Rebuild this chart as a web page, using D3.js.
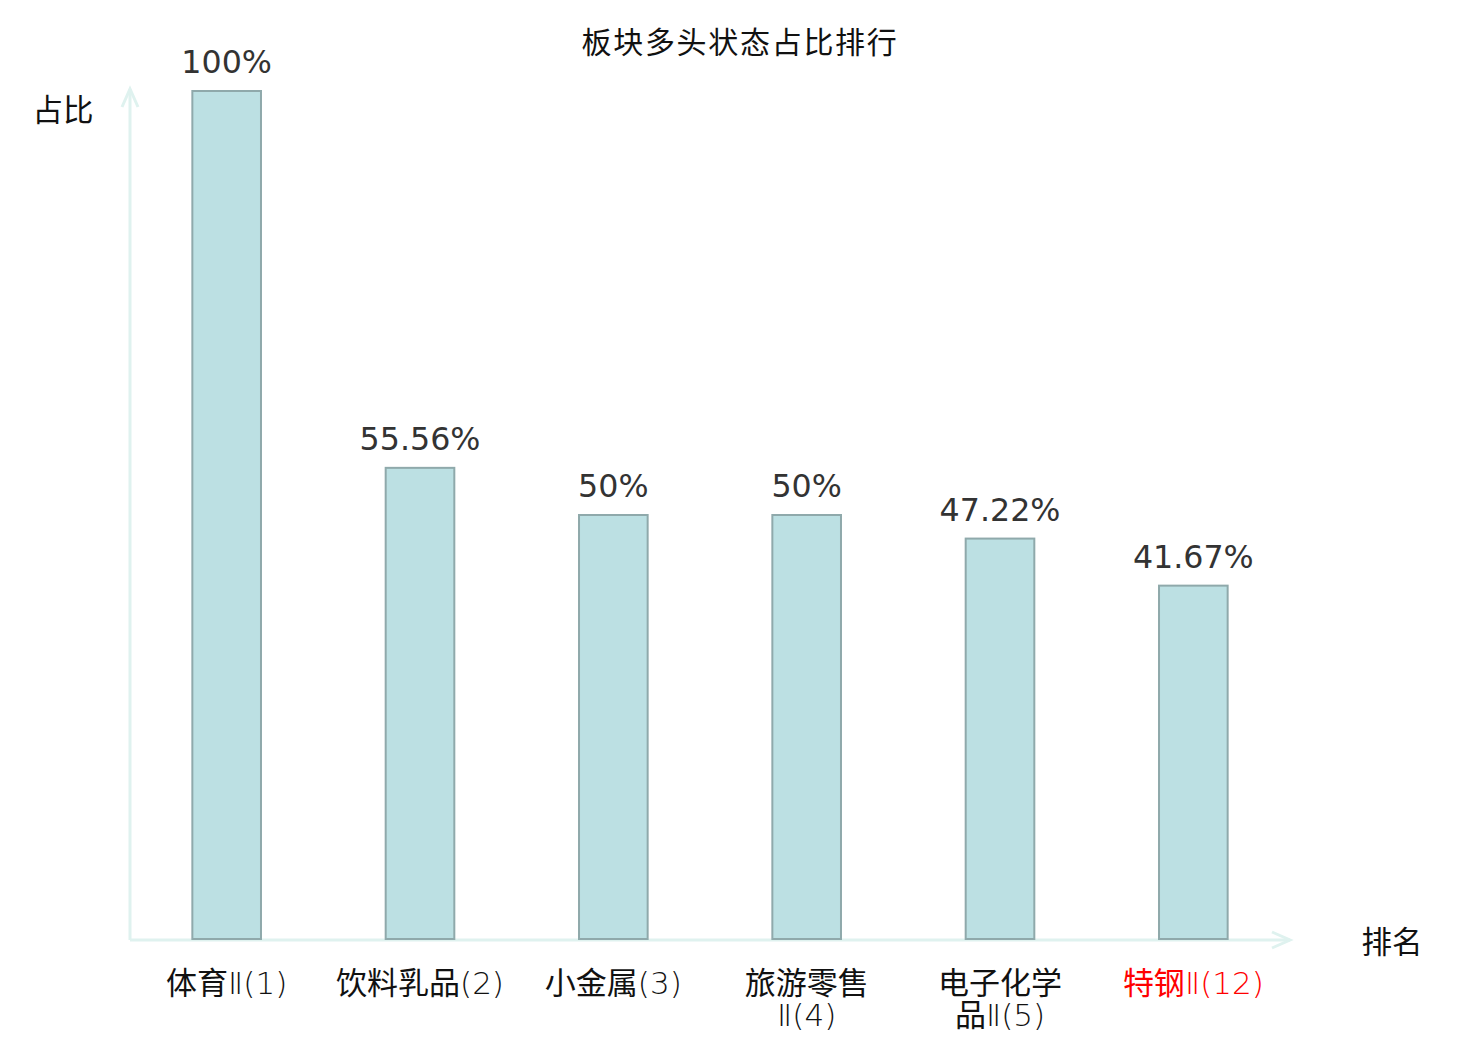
<!DOCTYPE html>
<html>
<head>
<meta charset="utf-8">
<script src="https://cdn.jsdelivr.net/npm/d3@7/dist/d3.min.js"></script>
<style>
  body { margin: 0; background: #fff; }
  text { font-family: "Noto Sans CJK SC", "Noto Sans", sans-serif; }
  tspan.latin { font-family: "DejaVu Sans", "Noto Sans CJK SC", sans-serif; font-weight: 200; }
  tspan.han { font-family: "Noto Sans CJK SC", sans-serif; font-weight: 400; }
</style>
</head>
<body>
<svg id="chart"></svg>
<script>
const WIDTH = 1480;
const HEIGHT = 1040;

// data
const categories = ["体育Ⅱ(1)", "饮料乳品(2)", "小金属(3)", "旅游零售Ⅱ(4)", "电子化学品Ⅱ(5)", "特钢Ⅱ(12)"];
const values = [100, 55.56, 50, 50, 47.22, 41.67];
const valueLabels = ["100%", "55.56%", "50%", "50%", "47.22%", "41.67%"];
const highlight = ["特钢Ⅱ(12)"];

const plotLeft = 130, plotRight = 1290, plotTop = 91, plotBottom = 939;

const svg = d3.select("#chart")
    .attr("width", WIDTH)
    .attr("height", HEIGHT);

const x = d3.scaleBand()
    .domain(categories)
    .range([plotLeft, plotRight]);

const y = d3.scaleLinear()
    .domain([0, 100])
    .range([plotBottom, plotTop]);

const barW = x.bandwidth() * 0.355;
const axisColor = "#dff2ef";

// title
svg.append("text")
    .attr("x", 740)
    .attr("y", 53)
    .attr("text-anchor", "middle")
    .style("font-size", "30px")
    .style("letter-spacing", "1.7px")
    .attr("fill", "#111")
    .text("板块多头状态占比排行");

// axes lines with arrows
svg.append("line")
    .attr("x1", plotLeft).attr("x2", plotRight)
    .attr("y1", plotBottom + 1).attr("y2", plotBottom + 1)
    .attr("stroke", axisColor).attr("stroke-width", 3);
svg.append("path")
    .attr("d", `M${plotRight - 18},${plotBottom - 7} L${plotRight},${plotBottom + 1} L${plotRight - 18},${plotBottom + 9}`)
    .attr("fill", "none").attr("stroke", axisColor).attr("stroke-width", 3);

svg.append("line")
    .attr("x1", plotLeft).attr("x2", plotLeft)
    .attr("y1", plotBottom + 1).attr("y2", 89)
    .attr("stroke", axisColor).attr("stroke-width", 3);
svg.append("path")
    .attr("d", `M${plotLeft - 8},${107} L${plotLeft},${89} L${plotLeft + 8},${107}`)
    .attr("fill", "none").attr("stroke", axisColor).attr("stroke-width", 3);

// axis names
svg.append("text")
    .attr("x", 63).attr("y", 121)
    .attr("text-anchor", "middle")
    .style("font-size", "30.5px")
    .attr("fill", "#111")
    .text("占比");
svg.append("text")
    .attr("x", 1392).attr("y", 953)
    .attr("text-anchor", "middle")
    .style("font-size", "30.5px")
    .attr("fill", "#111")
    .text("排名");

// bars
svg.selectAll("rect.bar")
    .data(values)
    .enter()
    .append("rect")
    .attr("class", "bar")
    .attr("x", (d, i) => x(categories[i]) + x.bandwidth() / 2 - barW / 2)
    .attr("y", d => y(d))
    .attr("width", barW)
    .attr("height", d => plotBottom - y(d))
    .attr("fill", "#bce0e3")
    .attr("stroke", "#8fa9ab")
    .attr("stroke-width", 2);

// value labels
svg.selectAll("text.val")
    .data(values)
    .enter()
    .append("text")
    .attr("class", "val")
    .attr("x", (d, i) => x(categories[i]) + x.bandwidth() / 2)
    .attr("y", d => y(d) - 18)
    .attr("text-anchor", "middle")
    .style("font-family", "'DejaVu Sans', sans-serif")
    .style("font-size", "31.7px")
    .attr("fill", "#333")
    .text((d, i) => valueLabels[i]);

// fill a text node with han / latin runs so each gets its own font
function setRuns(t, s) {
    t.text(null);
    (s.match(/[\u4e00-\u9fff]+|[^\u4e00-\u9fff]+/g) || []).forEach(r => {
        t.append("tspan")
            .attr("class", /[\u4e00-\u9fff]/.test(r) ? "han" : "latin")
            .text(r);
    });
}

// category labels, wrapped when too wide for the band
const maxW = 180;
categories.forEach(function(c) {
    const cx = x(c) + x.bandwidth() / 2;
    const color = highlight.includes(c) ? "#f00" : "#111";
    const probe = svg.append("text").style("font-size", "31px");
    setRuns(probe, c);
    let lines = [c];
    if (probe.node().getComputedTextLength() > maxW) {
        let line = "";
        lines = [];
        for (const ch of c) {
            setRuns(probe, line + ch);
            if (probe.node().getComputedTextLength() > 130 && line) {
                lines.push(line);
                line = ch;
            } else {
                line += ch;
            }
        }
        lines.push(line);
    }
    probe.remove();
    lines.forEach((l, i) => {
        const t = svg.append("text")
            .attr("class", "cat")
            .attr("x", cx)
            .attr("y", 994 + i * 32)
            .attr("text-anchor", "middle")
            .style("font-size", "31px")
            .attr("fill", color);
        setRuns(t, l);
    });
});
</script>
</body>
</html>
